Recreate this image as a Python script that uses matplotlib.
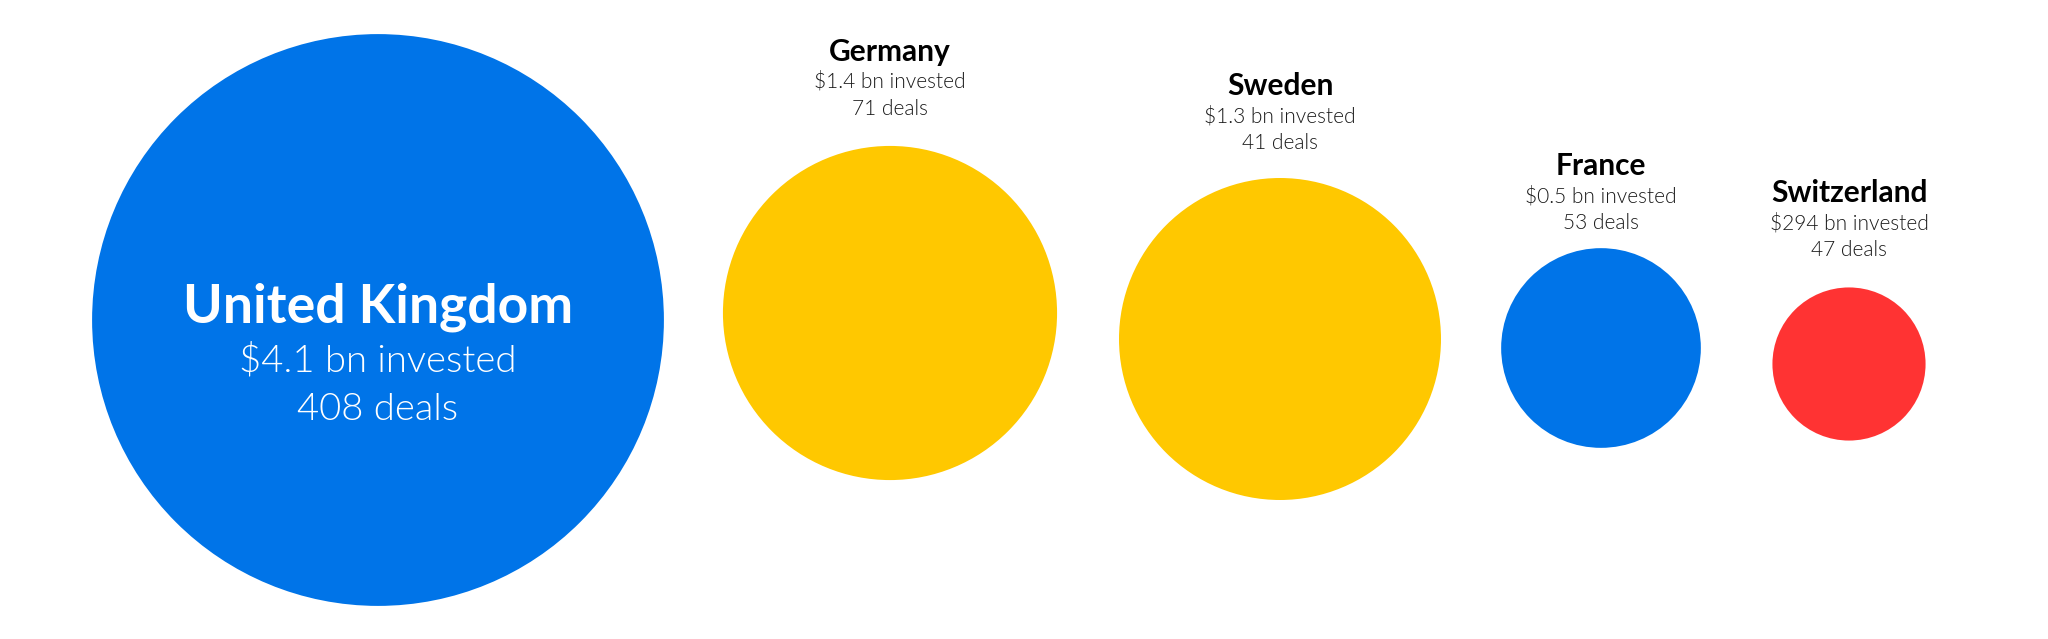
"""Burbujas de inversión por país (área proporcional a lo invertido)."""

import matplotlib.pyplot as plt
from matplotlib.patches import Circle
import numpy as np

paises = ["United Kingdom", "Germany", "Sweden", "France", "Switzerland"]
invertido = [4.1, 1.4, 1.3, 0.5, 0.294]  # miles de millones USD
etiqueta_inv = ["$4.1 bn", "$1.4 bn", "$1.3 bn", "$0.5 bn", "$294 bn"]
deals = [408, 71, 41, 53, 47]

AZUL, AMARILLO, ROJO = "#0074E8", "#FFC800", "#FF3333"
colores = [AZUL, AMARILLO, AMARILLO, AZUL, ROJO]

# disposición en píxeles (lienzo 2048x639)
W, H = 2048, 639
cx = [378, 890, 1280, 1601, 1849]
cy = [320, 313, 339, 348, 364]
K = 141.2  # px por sqrt(bn)
gap_label = [0, 31, 29, 19, 31]

plt.rcParams["font.family"] = ["Lato", "DejaVu Sans"]

fig = plt.figure(figsize=(W / 100, H / 100), dpi=100)
ax = fig.add_axes([0, 0, 1, 1])
ax.set_xlim(0, W)
ax.set_ylim(H, 0)
ax.set_aspect("equal")
ax.axis("off")

for i, pais in enumerate(paises):
    r = K * np.sqrt(invertido[i])
    ax.add_patch(Circle((cx[i], cy[i]), r, color=colores[i], lw=0))
    sub = f"{etiqueta_inv[i]} invested"
    dl = f"{deals[i]} deals"
    if i == 0:
        ax.text(cx[i], 322, pais, ha="center", va="baseline", color="white",
                fontsize=38.5, fontweight="bold")
        ax.text(cx[i], 371, sub, ha="center", va="baseline", color="white",
                fontsize=27.5, fontweight=300)
        ax.text(cx[i], 420, dl, ha="center", va="baseline", color="white",
                fontsize=27.5, fontweight=300)
    else:
        base = cy[i] - r - gap_label[i]
        ax.text(cx[i], base - 54, pais, ha="center", va="baseline", color="black",
                fontsize=21.5, fontweight="bold")
        ax.text(cx[i], base - 27, sub, ha="center", va="baseline", color="#1a1a1a",
                fontsize=15, fontweight=300)
        ax.text(cx[i], base, dl, ha="center", va="baseline", color="#1a1a1a",
                fontsize=15, fontweight=300)

fig.savefig("out.png", dpi=100, facecolor="white")
